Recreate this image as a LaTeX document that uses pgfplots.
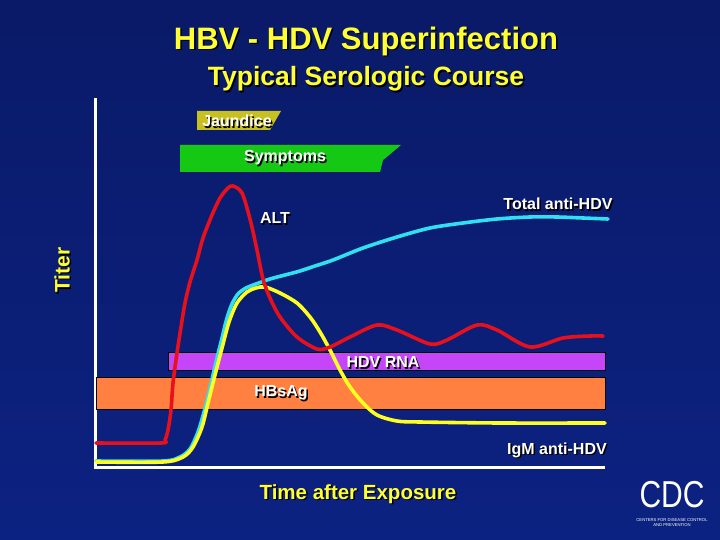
\documentclass[border=0pt]{standalone}
\usepackage{fontspec}
\setmainfont{Liberation Sans}
\usepackage{graphicx}
\usepackage{pgfplots}
\pgfplotsset{compat=1.18}

\definecolor{bgtop}{HTML}{0A1A68}
\definecolor{bgmid}{HTML}{1232A2}
\definecolor{bgbot}{HTML}{0C2282}
\definecolor{ttl}{HTML}{FFFF33}
\definecolor{jaun}{HTML}{C8C020}
\definecolor{symp}{HTML}{14C814}
\definecolor{rna}{HTML}{C446F8}
\definecolor{hbs}{HTML}{FF8040}
\definecolor{altred}{HTML}{E8101A}
\definecolor{antihdv}{HTML}{30E0F0}
\definecolor{igm}{HTML}{FFFF20}

% label with black drop shadow, positions in pixels of the slide
\newcommand{\lbl}[5]{%
  \node[text=black,inner sep=0pt,font=\fontsize{#4}{#4}\selectfont\bfseries] at (axis cs:#1+1.5,#2+1.5) {#5};
  \node[text=#3,inner sep=0pt,font=\fontsize{#4}{#4}\selectfont\bfseries] at (axis cs:#1,#2) {#5};}

\begin{document}
\begin{tikzpicture}
\begin{axis}[
    width=720bp, height=540bp, scale only axis,
    xmin=0, xmax=720, ymin=0, ymax=540, y dir=reverse,
    hide axis, clip=false,
    curve/.style={line width=3.6bp, smooth, tension=0.5, line join=round, line cap=round},
]
% slide background
\addplot[draw=none, top color=bgtop, middle color=bgmid, bottom color=bgbot]
    coordinates {(0,0) (720,0) (720,540) (0,540)} -- cycle;

% axis lines
\addplot[white, line width=3bp] coordinates {(95,98) (95,467) (605,467)};

% bars
\addplot[fill=hbs, draw=black, line width=1bp] coordinates {(96,377) (605,377) (605,409) (96,409)} -- cycle;
\addplot[fill=rna, draw=black, line width=1bp] coordinates {(168,352) (605,352) (605,370) (168,370)} -- cycle;
\addplot[fill=jaun, draw=none] coordinates {(197,111) (281,111) (270,130) (197,130)} -- cycle;
\addplot[fill=symp, draw=none] coordinates {(180,145) (401,145) (388,156) (383,160) (380,172) (180,172)} -- cycle;

\lbl{237}{121}{white}{16bp}{Jaundice}
\lbl{285}{158}{white}{16bp}{Symptoms}
\lbl{383}{362}{white}{16bp}{HDV RNA}
\lbl{281}{393}{white}{16bp}{HBsAg}

% Total anti-HDV
\addplot[curve, antihdv] coordinates {
 (96,461) (163,461) (180,457) (190,449) (198,432) (204,412) (210,388) (216,362)
 (222,338) (227,318) (232,304) (238,294) (246,288) (256,284) (270,279) (285,275)
 (300,271) (315,266) (333,260) (363,248) (397,237) (430,228) (463,223) (497,219)
 (530,217) (557,217) (583,218) (608,219)};

% IgM anti-HDV
\addplot[curve, igm] coordinates {
 (96,462) (163,462) (183,457) (193,447) (202,427) (208,403) (215,375) (222,348)
 (229,322) (237,303) (247,292) (256,288) (265,287) (280,293) (297,303) (310,317)
 (320,332) (330,350) (340,370) (350,387) (363,403) (377,415) (397,421) (420,422)
 (500,423) (605,423)};

% ALT
\addplot[curve, altred] coordinates {
 (96,443) (161,443) (165,440) (168,430) (171,410) (173,383) (177,353) (181,327)
 (185,303) (190,282) (197,260) (203,238) (212,215) (220,198) (228,188) (233,186)
 (242,193) (250,219) (257,250) (263,279) (270,298) (280,317) (297,337) (317,349)
 (330,347) (350,337) (377,325) (397,330) (430,344) (447,340) (477,325) (497,330)
 (530,347) (563,338) (590,336) (603,336)};

\lbl{275}{218}{white}{16bp}{ALT}
\lbl{558}{204}{white}{16bp}{Total anti-HDV}
\lbl{557}{450}{white}{16bp}{IgM anti-HDV}

% titles and axis labels
\lbl{366}{41}{ttl}{31bp}{HBV - HDV Superinfection}
\lbl{366}{79}{ttl}{26.5bp}{Typical Serologic Course}
\lbl{358}{494}{ttl}{20.5bp}{Time after Exposure}
\node[text=black,rotate=90,inner sep=0pt,font=\fontsize{21bp}{21bp}\selectfont\bfseries] at (axis cs:63.5,271.5) {Titer};
\node[text=ttl,rotate=90,inner sep=0pt,font=\fontsize{21bp}{21bp}\selectfont\bfseries] at (axis cs:62,270) {Titer};

% CDC mark
\node[text=white,inner sep=0pt,font=\fontsize{30bp}{30bp}\selectfont] at (axis cs:672,495) {\scalebox{1}[1.25]{CDC}};
\node[text=white,inner sep=0pt,font=\fontsize{4.2bp}{5bp}\selectfont,align=center] at (axis cs:672,523)
    {CENTERS FOR DISEASE CONTROL\\AND PREVENTION};
\end{axis}
\end{tikzpicture}
\end{document}
